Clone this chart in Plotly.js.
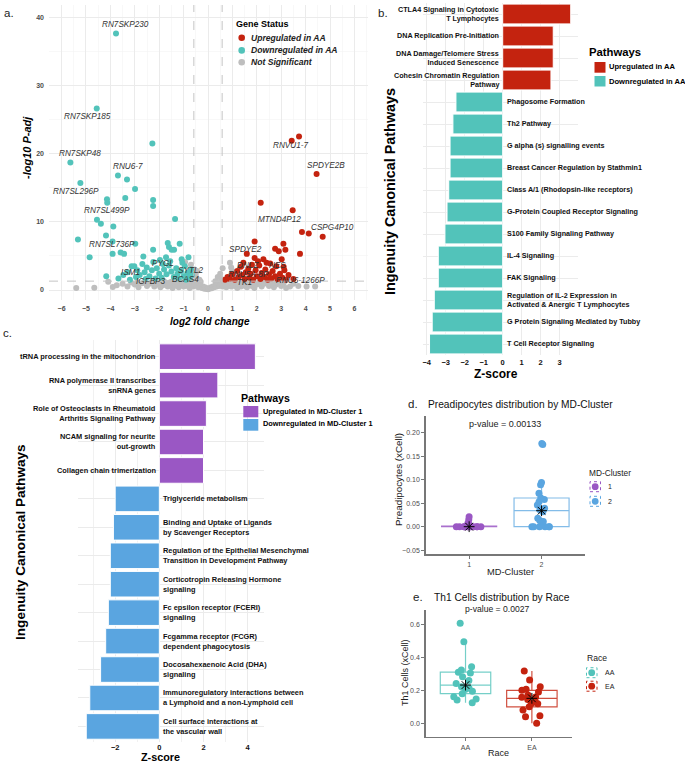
<!DOCTYPE html>
<html><head><meta charset="utf-8">
<script src="https://cdn.plot.ly/plotly-3.0.1.min.js"></script>
<style>html,body{margin:0;padding:0;background:#fff}#chart{width:685px;height:763px}</style>
</head><body><div id="chart"></div>
<script>
// ---------------- Panel a: volcano ----------------
const nsX = [-5.40,-4.66,-4.09,-3.74,-3.50,-3.30,-3.15,-3.00,-2.85,-2.70,-2.60,-2.50,-2.40,-2.30,-2.20,-2.10,-2.00,-1.95,-1.85,-1.80,-1.70,-1.65,-1.55,-1.50,-1.45,-1.40,-1.35,-1.30,-1.25,-1.20,-1.15,-1.10,-1.05,-1.00,-0.95,-0.90,-0.85,-0.80,-0.75,-0.70,-0.65,-0.60,-0.55,-0.50,-0.45,-0.40,-0.35,-0.30,-0.25,-0.20,-0.15,-0.10,-0.05,0.00,0.05,0.10,0.15,0.20,0.25,0.30,0.35,0.40,0.45,0.50,0.55,0.60,0.65,0.70,0.75,0.80,0.85,0.90,0.95,1.00,1.05,1.10,1.15,1.20,1.25,1.30,1.35,1.40,1.45,1.50,1.60,1.65,1.70,1.80,1.85,1.90,2.00,2.10,2.20,2.30,2.40,2.50,2.60,2.70,2.80,2.90,3.00,3.10,3.20,3.36,3.50,3.70,4.04,4.39,-0.94,-0.70,-0.60,-0.50,-0.55,0.40,0.50,0.55,0.90,0.95,1.00,0.60,-0.45,-0.35,-2.90,-2.15,-1.60,-0.30,0.30,1.55,2.25,2.75,-3.90,-1.90];
const nsY = [0.30,0.34,1.20,0.70,0.90,0.50,1.10,0.80,0.40,1.00,1.30,0.60,0.90,1.20,0.50,0.80,1.10,0.40,0.70,1.30,1.00,0.50,0.80,1.20,0.30,0.60,1.00,1.40,0.70,0.40,1.10,0.80,1.30,0.50,0.90,1.20,0.60,1.00,0.30,0.80,1.30,0.50,1.00,0.70,1.60,0.40,0.90,0.60,0.30,0.50,0.20,0.35,0.15,0.10,0.20,0.35,0.25,0.50,0.40,0.70,0.50,0.90,0.60,1.10,0.80,0.50,1.20,0.90,0.40,1.00,0.70,1.30,0.50,0.90,1.20,0.60,1.00,0.30,0.80,1.30,0.50,1.00,0.70,1.20,0.40,0.90,1.30,0.60,1.00,0.30,0.80,1.20,0.50,0.90,1.30,0.60,1.00,0.40,0.80,1.20,0.60,1.00,0.30,0.50,0.90,0.60,0.50,0.50,4.10,3.70,2.60,2.20,3.00,1.90,2.40,1.60,4.00,3.30,2.80,3.20,2.80,1.50,1.15,1.00,1.05,1.20,1.30,0.55,1.10,1.15,0.45,0.90];
const downX = [-3.77,-4.56,-2.28,-5.64,-5.23,-3.69,-3.32,-2.99,-4.14,-4.13,-3.39,-2.25,-2.25,-4.55,-4.39,-3.88,-1.35,-4.18,-5.33,-3.91,-2.98,-1.65,-1.16,-1.60,-1.49,-1.39,-2.25,-4.85,-3.91,-3.58,-3.44,-2.65,-1.72,-1.08,-4.17,-3.13,-3.02,-2.69,-2.51,-2.24,-1.97,-3.67,-3.47,-3.30,-2.90,-2.80,-2.60,-2.40,-2.30,-2.10,-2.00,-1.90,-1.80,-1.70,-1.60,-1.50,-1.40,-1.30,-1.25,-1.20,-1.10,-1.00,-0.95,-0.90,-0.85,-0.75,-0.70,-1.05,-1.55,-1.85,-2.15,-2.55,-2.95,-3.20,-0.65,-0.80];
const downY = [37.6,26.6,21.5,18.7,15.7,16.8,16.2,14.8,13.3,12.8,13.5,13.2,12.3,10.3,9.7,9.3,10.4,8.0,7.4,7.1,6.8,6.9,6.8,6.3,5.9,5.9,5.9,4.8,5.3,5.5,5.3,4.9,4.8,4.5,2.0,3.5,3.5,3.8,3.3,4.1,4.4,1.7,2.2,2.6,2.9,2.2,2.6,2.0,2.9,3.2,2.4,1.8,3.0,2.3,3.6,2.7,1.9,3.2,2.4,1.6,2.8,2.0,3.5,1.5,2.5,1.8,3.0,4.0,4.2,3.8,1.7,1.6,1.9,1.5,2.2,4.8];
const upX = [3.43,3.73,4.45,2.16,3.47,3.85,4.13,4.70,1.91,3.09,2.75,2.90,3.17,1.59,3.77,1.91,2.27,3.02,1.80,3.13,0.90,1.00,1.10,1.20,1.25,1.35,1.40,1.50,1.55,1.65,1.70,1.75,1.85,1.95,2.00,2.10,2.15,2.20,2.30,2.35,2.45,2.50,2.60,2.65,2.75,2.80,2.85,2.95,3.05,3.20,3.30,3.50,2.05,1.45,2.55,0.80,0.70,2.40,3.10];
const upY = [21.9,22.5,17.0,12.8,11.7,8.5,8.3,7.8,7.1,6.8,6.05,5.7,5.9,5.3,5.3,4.7,4.5,4.5,3.7,2.9,1.6,2.3,1.5,2.8,1.9,3.4,2.2,1.6,2.6,3.1,1.8,2.4,1.5,2.9,2.0,3.6,1.6,2.5,1.9,3.0,1.5,2.3,1.7,2.8,2.0,3.5,1.6,2.4,1.8,1.5,2.2,1.6,4.2,4.0,3.9,1.9,1.5,4.0,3.4];
const geneLabels = ['RN7SKP230','RN7SKP185','RN7SKP48','RNU6-7','RN7SL296P','RN7SL499P','RN7SL736P','PYGL','SYTL2','ISM1','IGFBP3','BCAS4','RNVU1-7','SPDYE2B','MTND4P12','CSPG4P10','SPDYE2','DNLZ','NES','RNU5A-8P','TK1','RNU6-1266P'];
const geneLabelX = [-3.38,-4.92,-5.25,-3.28,-5.43,-4.14,-3.95,-1.84,-0.72,-3.16,-2.34,-0.92,3.39,4.84,2.95,5.10,1.55,1.62,2.83,1.68,1.50,3.81];
const geneLabelY = [39.0,25.4,20.0,18.1,14.4,11.6,6.7,3.9,2.8,2.5,1.3,1.6,21.2,18.3,10.4,9.1,6.0,3.55,3.65,2.25,1.05,1.45];
const fcCut = 0.58, padjCut = 1.3;

// ---------------- Panel b: AA pathways ----------------
const aaPathUp = ['CTLA4 Signaling in Cytotoxic<br>T Lymphocytes','DNA Replication Pre-Initiation','DNA Damage/Telomere Stress<br>Induced Senescence','Cohesin Chromatin Regulation<br>Pathway'];
const aaZUp = [3.58,2.66,2.66,2.54];
const aaPathDown = ['Phagosome Formation','Th2 Pathway','G alpha (s) signalling events','Breast Cancer Regulation by Stathmin1','Class A/1 (Rhodopsin-like receptors)','G-Protein Coupled Receptor Signaling','S100 Family Signaling Pathway','IL-4 Signaling','FAK Signaling','Regulation of IL-2 Expression in<br>Activated & Anergic T Lymphocytes','G Protein Signaling Mediated by Tubby','T Cell Receptor Signaling'];
const aaZDown = [-2.46,-2.62,-2.77,-2.77,-2.84,-2.93,-3.04,-3.39,-3.39,-3.60,-3.71,-3.85];

// ---------------- Panel c: MD-Cluster pathways ----------------
const mdPathUp = ['tRNA processing in the mitochondrion','RNA polymerase II transcribes<br>snRNA genes','Role of Osteoclasts in Rheumatoid<br>Arthritis Signaling Pathway','NCAM signaling for neurite<br>out-growth','Collagen chain trimerization'];
const mdZUp = [4.35,2.65,2.13,2.0,2.0];
const mdPathDown = ['Triglyceride metabolism','Binding and Uptake of Ligands<br>by Scavenger Receptors','Regulation of the Epithelial Mesenchymal<br>Transition in Development Pathway','Corticotropin Releasing Hormone<br>signaling','Fc epsilon receptor (FCERI)<br>signaling','Fcgamma receptor (FCGR)<br>dependent phagocytosis','Docosahexaenoic Acid (DHA)<br>signaling','Immunoregulatory interactions between<br>a Lymphoid and a non-Lymphoid cell','Cell surface interactions at<br>the vascular wall'];
const mdZDown = [-2.0,-2.08,-2.22,-2.22,-2.31,-2.43,-2.66,-3.15,-3.31];

// ---------------- Panel d: Preadipocytes by MD-Cluster ----------------
const clusterCats = ['1','2'];
const preadipo1 = [0.021,0.015,0.008,0.004,0.002,0.001,0,0,0,0,0,0,0,0,0,0,0,0,0,0];
const preadipo2 = [0.177,0.175,0.094,0.089,0.071,0.061,0.058,0.053,0.046,0.039,0.036,0.032,0.018,0.013,0.011,0.002,0,0,0,0,0,0];
const pValueD = 'p-value = 0.00133';

// ---------------- Panel e: Th1 cells by Race ----------------
const raceCats = ['AA','EA'];
const th1AA = [0.606,0.495,0.343,0.323,0.31,0.305,0.283,0.26,0.242,0.222,0.212,0.205,0.195,0.18,0.161,0.148,0.141,0.125];
const th1EA = [0.317,0.262,0.222,0.206,0.2,0.19,0.172,0.16,0.158,0.145,0.131,0.121,0.118,0.1,0.081,0.046,0.04,0.0];
const pValueE = 'p-value = 0.0027';

// ---------------- helpers ----------------
const F = 'Liberation Sans, Arial, Helvetica, sans-serif';
const W = 685, H = 763;
const px = v => v / W, py = v => 1 - v / H;
const median = arr => { const s = arr.slice().sort((a,b)=>a-b); const n = s.length; return n % 2 ? s[(n-1)/2] : (s[n/2-1] + s[n/2]) / 2; };

const RED = '#C4230F', TEAL = '#52C3BA', GRAY = '#BEBEBE', PURPLE = '#9A57C4', BLUE = '#5AA5E0';

const traces = [];
// a
traces.push({type:'scatter', mode:'markers', x:nsX, y:nsY, xaxis:'x', yaxis:'y', marker:{color:GRAY, size:6}, hoverinfo:'skip'});
traces.push({type:'scatter', mode:'markers', x:downX, y:downY, xaxis:'x', yaxis:'y', marker:{color:TEAL, size:6}, hoverinfo:'skip'});
traces.push({type:'scatter', mode:'markers', x:upX, y:upY, xaxis:'x', yaxis:'y', marker:{color:RED, size:6}, hoverinfo:'skip'});
// b
traces.push({type:'bar', orientation:'h', x:aaZUp, y:aaPathUp, xaxis:'x2', yaxis:'y2', width:0.9, marker:{color:RED, line:{color:'#fff', width:1}}, hoverinfo:'skip'});
traces.push({type:'bar', orientation:'h', x:aaZDown, y:aaPathDown, xaxis:'x2', yaxis:'y2', width:0.9, marker:{color:TEAL, line:{color:'#fff', width:1}}, hoverinfo:'skip'});
// c
traces.push({type:'bar', orientation:'h', x:mdZUp, y:mdPathUp, xaxis:'x3', yaxis:'y3', width:0.9, marker:{color:PURPLE, line:{color:'#fff', width:1}}, hoverinfo:'skip'});
traces.push({type:'bar', orientation:'h', x:mdZDown, y:mdPathDown, xaxis:'x3', yaxis:'y3', width:0.9, marker:{color:BLUE, line:{color:'#fff', width:1}}, hoverinfo:'skip'});
// d
const boxCommon = {type:'box', boxpoints:'all', jitter:0.55, pointpos:0, width:0.76, whiskerwidth:0, fillcolor:'rgba(0,0,0,0)', hoverinfo:'skip'};
traces.push(Object.assign({}, boxCommon, {x:preadipo1.map(()=>clusterCats[0]), y:preadipo1, xaxis:'x4', yaxis:'y4', line:{color:'rgba(154,87,196,0.85)', width:1.2}, marker:{color:PURPLE, size:7}}));
traces.push(Object.assign({}, boxCommon, {x:preadipo2.map(()=>clusterCats[1]), y:preadipo2, xaxis:'x4', yaxis:'y4', line:{color:'rgba(90,165,224,0.75)', width:1.2}, marker:{color:BLUE, size:7}}));
traces.push({type:'scatter', mode:'markers', x:clusterCats, y:[median(preadipo1), median(preadipo2)], xaxis:'x4', yaxis:'y4', marker:{symbol:'asterisk-open', size:9, color:'#000', line:{color:'#000', width:1}}, hoverinfo:'skip'});
// e
traces.push(Object.assign({}, boxCommon, {x:th1AA.map(()=>raceCats[0]), y:th1AA, xaxis:'x5', yaxis:'y5', line:{color:'rgba(82,195,186,0.8)', width:1.2}, marker:{color:TEAL, size:7}}));
traces.push(Object.assign({}, boxCommon, {x:th1EA.map(()=>raceCats[1]), y:th1EA, xaxis:'x5', yaxis:'y5', line:{color:'rgba(196,35,15,0.8)', width:1.2}, marker:{color:RED, size:7}}));
traces.push({type:'scatter', mode:'markers', x:raceCats, y:[median(th1AA), median(th1EA)], xaxis:'x5', yaxis:'y5', marker:{symbol:'asterisk-open', size:9, color:'#000', line:{color:'#000', width:1}}, hoverinfo:'skip'});

// ---------------- annotations ----------------
const ann = [];
const A = (x, y, text, size, opts) => ann.push(Object.assign({xref:'paper', yref:'paper', x:px(x), y:py(y), text:text, showarrow:false, xanchor:'left', yanchor:'middle', font:{family:F, size:size, color:'#000'}}, opts || {}));

// panel tags
A(2, 12.7, 'a.', 11.5, {font:{family:F, size:11.5, color:'#222'}});
A(376, 12.7, 'b.', 11.5, {font:{family:F, size:11.5, color:'#222'}});
A(1, 333, 'c.', 11.5, {font:{family:F, size:11.5, color:'#222'}});
A(406, 404.3, 'd.', 11.5, {font:{family:F, size:11.5, color:'#222'}});
A(411, 597, 'e.', 11.5, {font:{family:F, size:11.5, color:'#222'}});

// panel a
geneLabels.forEach((g, i) => ann.push({xref:'x', yref:'y', x:geneLabelX[i], y:geneLabelY[i], text:'<i>' + g + '</i>', showarrow:false, xanchor:'center', yanchor:'middle', font:{family:F, size:8.2, color:'#333'}}));
A(209.7, 321.7, '<b><i>log2 fold change</i></b>', 10, {xanchor:'center'});
A(27, 148, '<b><i>-log10 P-adj</i></b>', 11, {xanchor:'center', textangle:-90});
A(234.3, 24, '<b>Gene Status</b>', 9);
const statusNames = ['Upregulated in AA','Downregulated in AA','Not Significant'];
const statusColors = [RED, TEAL, GRAY];
const statusY = [37.7, 50.4, 62.3];

// panel b
aaPathUp.forEach((p) => ann.push({xref:'x2', yref:'y2', x:0, y:p, text:'<b>' + p + '</b>', showarrow:false, xanchor:'right', yanchor:'middle', align:'right', xshift:-2, font:{family:F, size:7.2, color:'#111'}}));
aaPathDown.forEach((p) => ann.push({xref:'x2', yref:'y2', x:0, y:p, text:'<b>' + p + '</b>', showarrow:false, xanchor:'left', yanchor:'middle', align:'left', xshift:2, font:{family:F, size:7.2, color:'#111'}}));
A(496, 374, '<b>Z-score</b>', 12, {xanchor:'center'});
A(390, 192, '<b>Ingenuity Canonical Pathways</b>', 14.4, {xanchor:'center', textangle:-90});
A(587, 52.3, '<b>Pathways</b>', 11.3);
A(606.7, 66.7, '<b>Upregulated in AA</b>', 7.6);
A(606.7, 81, '<b>Downregulated in AA</b>', 7.6);

// panel c
mdPathUp.forEach((p) => ann.push({xref:'x3', yref:'y3', x:0, y:p, text:'<b>' + p + '</b>', showarrow:false, xanchor:'right', yanchor:'middle', align:'right', xshift:-1.5, font:{family:F, size:7.4, color:'#111'}}));
mdPathDown.forEach((p) => ann.push({xref:'x3', yref:'y3', x:0, y:p, text:'<b>' + p + '</b>', showarrow:false, xanchor:'left', yanchor:'middle', align:'left', xshift:1.5, font:{family:F, size:7.4, color:'#111'}}));
A(160.8, 757.4, '<b>Z-score</b>', 10.8, {xanchor:'center'});
A(20, 542, '<b>Ingenuity Canonical Pathways</b>', 13.6, {xanchor:'center', textangle:-90});
A(239.3, 398, '<b>Pathways</b>', 10.6);
A(260.7, 411, '<b>Upregulated in MD-Cluster 1</b>', 7.4);
A(260.7, 423.5, '<b>Downregulated in MD-Cluster 1</b>', 7.4);

// panel d
A(426, 404.3, 'Preadipocytes distribution by MD-Cluster', 10.2, {font:{family:F, size:10.2, color:'#111'}});
A(505.5, 424, pValueD, 9, {xanchor:'center', font:{family:F, size:9, color:'#222'}});
A(398, 480, 'Preadipocytes (xCell)', 9.8, {xanchor:'center', textangle:-90, font:{family:F, size:9.8, color:'#222'}});
A(510, 572, 'MD-Cluster', 9.3, {xanchor:'center', font:{family:F, size:9.3, color:'#222'}});
A(587, 473, 'MD-Cluster', 8.3, {font:{family:F, size:8.3, color:'#222'}});
A(606, 486.5, clusterCats[0], 7, {font:{family:F, size:7, color:'#222'}});
A(606, 501, clusterCats[1], 7, {font:{family:F, size:7, color:'#222'}});

// panel e
A(432, 597, 'Th1 Cells distribution by Race', 10.2, {font:{family:F, size:10.2, color:'#111'}});
A(497, 609.3, pValueE, 8.6, {xanchor:'center', font:{family:F, size:8.6, color:'#222'}});
A(405, 673, 'Th1 Cells (xCell)', 9, {xanchor:'center', textangle:-90, font:{family:F, size:9, color:'#222'}});
A(498, 752.7, 'Race', 9, {xanchor:'center', font:{family:F, size:9, color:'#222'}});
A(585, 657.7, 'Race', 8.6, {font:{family:F, size:8.6, color:'#222'}});
A(602.7, 672.7, raceCats[0], 7, {font:{family:F, size:7, color:'#222'}});
A(602.7, 686.2, raceCats[1], 7, {font:{family:F, size:7, color:'#222'}});

// ---------------- shapes ----------------
const shapes = [];
const rectPx = (x0, y0, x1, y1, fill, line) => shapes.push({type:'rect', xref:'paper', yref:'paper', x0:px(x0), x1:px(x1), y0:py(y1), y1:py(y0), fillcolor:fill, line:line || {width:0}, layer:'above'});
const circPx = (cx, cy, r, fill) => shapes.push({type:'circle', xref:'paper', yref:'paper', x0:px(cx-r), x1:px(cx+r), y0:py(cy+r), y1:py(cy-r), fillcolor:fill, line:{width:0}, layer:'above'});

// panel a thresholds
shapes.push({type:'line', xref:'x', yref:'paper', x0:-fcCut, x1:-fcCut, y0:py(300), y1:py(5), line:{color:'#C4C4C4', width:1, dash:'dash'}, layer:'above'});
shapes.push({type:'line', xref:'x', yref:'paper', x0:fcCut, x1:fcCut, y0:py(300), y1:py(5), line:{color:'#C4C4C4', width:1, dash:'dash'}, layer:'above'});
shapes.push({type:'line', xref:'paper', yref:'y', x0:px(49), x1:px(368), y0:padjCut, y1:padjCut, line:{color:'#C4C4C4', width:1, dash:'dash'}, layer:'above'});
// panel a legend
statusNames.forEach((s, i) => { circPx(241.7, statusY[i], 3.3, statusColors[i]); A(249, statusY[i], '<b><i>' + s + '</i></b>', 8.6, {font:{family:F, size:8.6, color:'#222'}}); });
// panel b legend
rectPx(594.5, 62, 605.5, 72.7, RED);
rectPx(594.5, 76, 605.5, 86.5, TEAL);
// panel c legend
rectPx(243.3, 406, 258.3, 417.3, PURPLE);
rectPx(243.3, 419, 258.3, 430.7, BLUE);
// panel d legend
[[486.7, PURPLE], [501.3, BLUE]].forEach(([cy, c]) => { rectPx(590, cy-5, 600.5, cy+5, 'rgba(0,0,0,0)', {color:c, width:1, dash:'dot'}); circPx(595.2, cy, 3.4, c); });
// panel e legend
[[672.7, TEAL], [686.2, RED]].forEach(([cy, c]) => { rectPx(586.5, cy-5, 597, cy+5, 'rgba(0,0,0,0)', {color:c, width:1, dash:'dot'}); circPx(591.7, cy, 3.4, c); });

// ---------------- layout ----------------
const barTick = {family:F, size:7.5, color:'#111', weight:'bold'};
const boxAxis = {showline:true, linecolor:'#777', linewidth:1.5, ticks:'outside', ticklen:3, tickcolor:'#777', tickwidth:1, showgrid:false, zeroline:false, tickfont:{family:F, size:7, color:'#4D4D4D'}};
const layout = {
  width:W, height:H, margin:{l:0, r:0, t:0, b:0}, paper_bgcolor:'#fff', plot_bgcolor:'#fff', showlegend:false, font:{family:F},
  boxmode:'overlay',
  xaxis:{domain:[px(49), px(368)], range:[-6.516, 6.557], anchor:'y', tick0:0, dtick:1, showgrid:true, gridcolor:'#EBEBEB', gridwidth:1, minor:{dtick:0.5, showgrid:true, gridcolor:'#F3F3F3', gridwidth:0.6}, zeroline:false, showline:false, ticks:'', tickfont:{family:F, size:7, color:'#4D4D4D', weight:'bold'}, ticklabelstandoff:3},
  yaxis:{domain:[py(300), py(5)], range:[-1.466, 41.79], anchor:'x', tick0:0, dtick:10, showgrid:true, gridcolor:'#EBEBEB', gridwidth:1, minor:{dtick:5, showgrid:true, gridcolor:'#F3F3F3', gridwidth:0.6}, zeroline:false, showline:false, ticks:'', tickfont:{family:F, size:7, color:'#4D4D4D', weight:'bold'}, ticklabelstandoff:4},
  xaxis2:{domain:[px(422.7), px(578)], range:[-4.21, 3.963], anchor:'y2', tick0:0, dtick:1, showgrid:true, gridcolor:'#EBEBEB', zeroline:false, ticks:'', tickfont:barTick, ticklabelstandoff:1},
  yaxis2:{domain:[py(355), py(3)], range:[15.5, -0.5], anchor:'x2', type:'category', categoryorder:'array', categoryarray:aaPathUp.concat(aaPathDown), showgrid:true, gridcolor:'#EBEBEB', showticklabels:false, ticks:'', zeroline:false},
  xaxis3:{domain:[px(78.3), px(264)], range:[-3.67, 4.74], anchor:'y3', tick0:0, dtick:2, showgrid:true, gridcolor:'#EBEBEB', minor:{dtick:1, showgrid:true, gridcolor:'#F1F1F1'}, zeroline:false, ticks:'', tickfont:barTick, ticklabelstandoff:0},
  yaxis3:{domain:[py(741.5), py(339.6)], range:[13.53, -0.6], anchor:'x3', type:'category', categoryorder:'array', categoryarray:mdPathUp.concat(mdPathDown), showgrid:true, gridcolor:'#EBEBEB', showticklabels:false, ticks:'', zeroline:false},
  xaxis4:Object.assign({}, boxAxis, {domain:[px(425.7), px(585)], range:[-0.6, 1.6], anchor:'y4', type:'category', categoryorder:'array', categoryarray:clusterCats}),
  yaxis4:Object.assign({}, boxAxis, {domain:[py(554), py(416)], range:[-0.0581, 0.2355], anchor:'x4', tickvals:[-0.05, 0, 0.05, 0.1, 0.15, 0.2], tickformat:'.2f'}),
  xaxis5:Object.assign({}, boxAxis, {domain:[px(425.7), px(571.7)], range:[-0.6, 1.6], anchor:'y5', type:'category', categoryorder:'array', categoryarray:raceCats}),
  yaxis5:Object.assign({}, boxAxis, {domain:[py(736.7), py(610)], range:[-0.081, 0.687], anchor:'x5', tickvals:[0, 0.2, 0.4, 0.6], tickformat:'.1f'}),
  annotations:ann, shapes:shapes
};
Plotly.newPlot('chart', traces, layout, {staticPlot:true, displayModeBar:false});
</script></body></html>
